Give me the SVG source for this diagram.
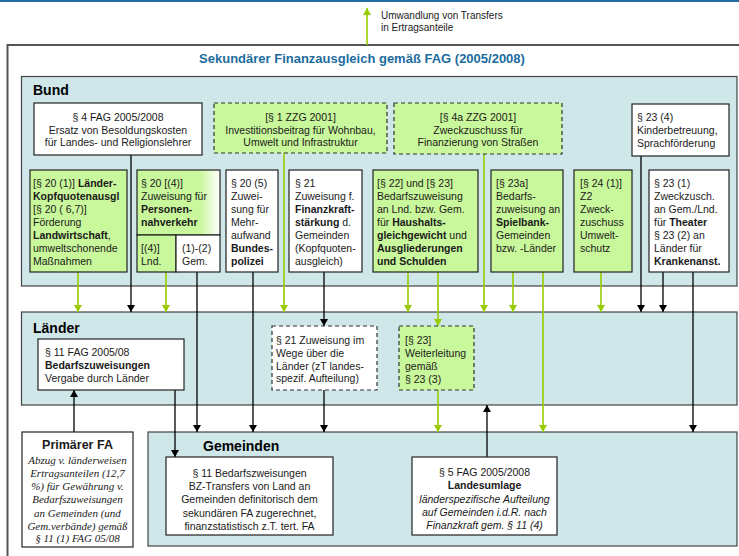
<svg xmlns="http://www.w3.org/2000/svg" width="739" height="556" viewBox="0 0 739 556">
<defs>
<linearGradient id="gfade" x1="0" y1="0" x2="1" y2="0">
<stop offset="0" stop-color="#c9f79b"/><stop offset="0.75" stop-color="#c9f79b"/><stop offset="1" stop-color="#ffffff"/>
</linearGradient>
<marker id="ak" markerUnits="userSpaceOnUse" markerWidth="8" markerHeight="8" refX="7" refY="4" orient="auto"><path d="M0,0 L7,4 L0,8 z" fill="#000"/></marker>
<marker id="ag" markerUnits="userSpaceOnUse" markerWidth="8" markerHeight="8" refX="7" refY="4" orient="auto"><path d="M0,0 L7,4 L0,8 z" fill="#99cc00"/></marker>
</defs>
<style>
text{font-family:"Liberation Sans",Arial,sans-serif;font-size:10.5px;fill:#1a1a1a}
.b{font-weight:bold}
.c{text-anchor:middle}
.lbl{font-size:14px;font-weight:bold;fill:#000}
.panel{fill:#cfe7e9;stroke:#444;stroke-width:1.2}
.wbox{fill:#fff;stroke:#222;stroke-width:1.2}
.gbox{fill:#c9f79b;stroke:#222;stroke-width:1.2}
.wdash{fill:#fff;stroke:#333;stroke-width:1.2;stroke-dasharray:4 3}
.gdash{fill:#c9f79b;stroke:#333;stroke-width:1.2;stroke-dasharray:4 3}
.k{stroke:#000;stroke-width:1.3;fill:none}
.g{stroke:#99cc00;stroke-width:1.6;fill:none}
.ka{marker-end:url(#ak)}
.ga{marker-end:url(#ag)}
.it{font-style:italic}
.ser{font-family:"Liberation Serif","Times New Roman",serif;font-style:italic;font-size:11px}
</style>
<rect x="0" y="0" width="739" height="2" fill="#1f6d9c"/>
<g id="frame">
<rect x="7.5" y="45" width="740" height="520" fill="#fff" stroke="#555" stroke-width="2"/>
<text x="362" y="63" class="c b" style="font-size:13px;fill:#1c6c9e">Sekundärer Finanzausgleich gemäß FAG (2005/2008)</text>
</g>
<g id="top-label">
<text x="381" y="19" style="font-size:10px">Umwandlung von Transfers</text>
<text x="381" y="31" style="font-size:10px">in Ertragsanteile</text>
</g>
<g id="bund">
<rect x="21.5" y="76.5" width="715.5" height="209.5" class="panel"/>
<text x="33" y="95" class="lbl">Bund</text>
</g>
<g id="laender">
<rect x="21.5" y="312" width="715.5" height="93" class="panel"/>
<text x="33" y="333" class="lbl">Länder</text>
</g>
<g id="gemeinden">
<rect x="148" y="432" width="589" height="114" class="panel"/>
<text x="203" y="451" class="lbl">Gemeinden</text>
</g>
<g id="connectors">
<line x1="367" y1="45" x2="367" y2="8" class="g ga"/>
<line x1="131" y1="155" x2="131" y2="312" class="k ka"/>
<line x1="284" y1="153" x2="284" y2="312" class="g ga"/>
<line x1="484" y1="154" x2="484" y2="312" class="g ga"/>
<line x1="641" y1="156" x2="641" y2="312" class="k ka"/>
<line x1="78" y1="272" x2="78" y2="312" class="g ga"/>
<line x1="166" y1="272" x2="166" y2="312" class="g ga"/>
<line x1="197" y1="272" x2="197" y2="432" class="k ka"/>
<line x1="253" y1="272" x2="253" y2="432" class="k ka"/>
<line x1="324" y1="272" x2="324" y2="326" class="k ka"/>
<line x1="324" y1="390" x2="324" y2="432" class="k ka"/>
<line x1="408" y1="272" x2="408" y2="312" class="g ga"/>
<line x1="438" y1="272" x2="438" y2="326" class="g ga"/>
<line x1="438" y1="390" x2="438" y2="432" class="g ga"/>
<line x1="513" y1="272" x2="513" y2="312" class="g ga"/>
<line x1="543" y1="272" x2="543" y2="432" class="g ga"/>
<line x1="601" y1="272" x2="601" y2="312" class="g ga"/>
<line x1="663" y1="272" x2="663" y2="312" class="k ka"/>
<line x1="693" y1="272" x2="693" y2="432" class="k ka"/>
<line x1="74" y1="432" x2="74" y2="390" class="k ka"/>
<line x1="175" y1="390" x2="175" y2="457" class="k ka"/>
<line x1="487" y1="457" x2="487" y2="405" class="k ka"/>
</g>
<g id="fag4">
<rect x="34" y="103" width="168" height="52" class="wbox"/>
<text x="118" y="121" class="c">§ 4 FAG 2005/2008</text>
<text x="118" y="133.5" class="c">Ersatz von Besoldungskosten</text>
<text x="118" y="146" class="c">für Landes- und Religionslehrer</text>
</g>
<g id="zzg1">
<rect x="214" y="103" width="173" height="50" class="gdash"/>
<text x="300.5" y="121" class="c">[§ 1 ZZG 2001]</text>
<text x="300.5" y="133.5" class="c">Investitionsbeitrag für Wohnbau,</text>
<text x="300.5" y="146" class="c">Umwelt und Infrastruktur</text>
</g>
<g id="zzg4a">
<rect x="394" y="103" width="168" height="51" class="gdash"/>
<text x="478" y="121" class="c">[§ 4a ZZG 2001]</text>
<text x="478" y="133.5" class="c">Zweckzuschuss für</text>
<text x="478" y="146" class="c">Finanzierung von Straßen</text>
</g>
<g id="p23-4">
<rect x="632" y="104" width="97" height="52" class="wbox"/>
<text x="637" y="121">§ 23 (4)</text>
<text x="637" y="134">Kinderbetreuung,</text>
<text x="637" y="147">Sprachförderung</text>
</g>
<g id="p20-1">
<rect x="30" y="170" width="97" height="102" class="gbox"/>
<text x="33" y="187">[§ 20 (1)] <tspan class="b">Länder-</tspan></text>
<text x="33" y="200" class="b">Kopfquotenausgl</text>
<text x="33" y="213">[§ 20 ( 6,7)]</text>
<text x="33" y="226">Förderung</text>
<text x="33" y="239"><tspan class="b">Landwirtschaft</tspan>,</text>
<text x="33" y="252">umweltschonende</text>
<text x="33" y="265">Maßnahmen</text>
</g>
<g id="p20-4">
<rect x="137" y="170" width="83" height="65" fill="url(#gfade)" stroke="#222" stroke-width="1.2"/>
<rect x="137" y="235" width="39" height="37" class="gbox"/>
<rect x="176" y="235" width="44" height="37" class="wbox"/>
<text x="141" y="187">§ 20 [(4)]</text>
<text x="141" y="200">Zuweisung für</text>
<text x="141" y="213" class="b">Personen-</text>
<text x="141" y="226" class="b">nahverkehr</text>
<text x="141" y="252">[(4)]</text>
<text x="141" y="265">Lnd.</text>
<text x="182" y="252">(1)-(2)</text>
<text x="182" y="265">Gem.</text>
</g>
<g id="p20-5">
<rect x="226" y="170" width="52" height="102" class="wbox"/>
<text x="231" y="187">§ 20 (5)</text>
<text x="231" y="200">Zuwei-</text>
<text x="231" y="213">sung für</text>
<text x="231" y="226">Mehr-</text>
<text x="231" y="239">aufwand</text>
<text x="231" y="252" class="b">Bundes-</text>
<text x="231" y="265" class="b">polizei</text>
</g>
<g id="p21">
<rect x="289" y="170" width="73" height="102" class="wbox"/>
<text x="295" y="187">§ 21</text>
<text x="295" y="200">Zuweisung f.</text>
<text x="295" y="213" class="b">Finanzkraft-</text>
<text x="295" y="226"><tspan class="b">stärkung</tspan> d.</text>
<text x="295" y="239">Gemeinden</text>
<text x="295" y="252">(Kopfquoten-</text>
<text x="295" y="265">ausgleich)</text>
</g>
<g id="p22">
<rect x="373" y="170" width="105" height="102" class="gbox"/>
<text x="377" y="187">[§ 22] und [§ 23]</text>
<text x="377" y="200">Bedarfszuweisung</text>
<text x="377" y="213">an Lnd. bzw. Gem.</text>
<text x="377" y="226">für <tspan class="b">Haushalts-</tspan></text>
<text x="377" y="239"><tspan class="b">gleichgewicht</tspan> und</text>
<text x="377" y="252" class="b">Ausgliederungen</text>
<text x="377" y="265" class="b">und Schulden</text>
</g>
<g id="p23a">
<rect x="491" y="170" width="72" height="102" class="gbox"/>
<text x="496" y="187">[§ 23a]</text>
<text x="496" y="200">Bedarfs-</text>
<text x="496" y="213">zuweisung an</text>
<text x="496" y="226" class="b">Spielbank-</text>
<text x="496" y="239">Gemeinden</text>
<text x="496" y="252">bzw. -Länder</text>
</g>
<g id="p24">
<rect x="574" y="170" width="58" height="102" class="gbox"/>
<text x="580" y="187">[§ 24 (1)]</text>
<text x="580" y="200">Z2</text>
<text x="580" y="213">Zweck-</text>
<text x="580" y="226">zuschuss</text>
<text x="580" y="239">Umwelt-</text>
<text x="580" y="252">schutz</text>
</g>
<g id="p23-1">
<rect x="649" y="170" width="80" height="102" class="wbox"/>
<text x="654" y="187">§ 23 (1)</text>
<text x="654" y="200">Zweckzusch.</text>
<text x="654" y="213">an Gem./Lnd.</text>
<text x="654" y="226">für <tspan class="b">Theater</tspan></text>
<text x="654" y="239">§ 23 (2) an</text>
<text x="654" y="252">Länder für</text>
<text x="654" y="265" class="b">Krankenanst.</text>
</g>
<g id="fag11">
<rect x="38" y="339" width="146" height="51" class="wbox"/>
<text x="45" y="356">§ 11 FAG 2005/08</text>
<text x="45" y="369" class="b">Bedarfszuweisungen</text>
<text x="45" y="382">Vergabe durch Länder</text>
</g>
<g id="p21-laender">
<rect x="272" y="326" width="105" height="64" class="wdash"/>
<text x="276" y="344">§ 21 Zuweisung im</text>
<text x="276" y="357">Wege über die</text>
<text x="276" y="370">Länder (zT landes-</text>
<text x="276" y="382">spezif. Aufteilung)</text>
</g>
<g id="p23-weiter">
<rect x="399" y="326" width="75" height="64" class="gdash"/>
<text x="405" y="344">[§ 23]</text>
<text x="405" y="357">Weiterleitung</text>
<text x="405" y="370">gemäß</text>
<text x="405" y="383">§ 23 (3)</text>
</g>
<g id="primaer">
<rect x="22" y="432" width="111" height="115" class="wbox"/>
<text x="77.5" y="449" class="c b" style="font-size:12.5px">Primärer FA</text>
<text x="77.5" y="464" class="c ser">Abzug v. länderweisen</text>
<text x="77.5" y="477" class="c ser">Ertragsanteilen (12,7</text>
<text x="77.5" y="490" class="c ser">%) für Gewährung v.</text>
<text x="77.5" y="503" class="c ser">Bedarfszuweisungen</text>
<text x="77.5" y="517" class="c ser">an Gemeinden (und</text>
<text x="77.5" y="530" class="c ser">Gem.verbände) gemäß</text>
<text x="77.5" y="542" class="c ser">§ 11 (1) FAG 05/08</text>
</g>
<g id="bz11">
<rect x="166" y="457" width="167" height="78" class="wbox"/>
<text x="249.5" y="477" class="c">§ 11 Bedarfszweisungen</text>
<text x="249.5" y="490" class="c">BZ-Transfers von Land an</text>
<text x="249.5" y="503" class="c">Gemeinden definitorisch dem</text>
<text x="249.5" y="517" class="c">sekundären FA zugerechnet,</text>
<text x="249.5" y="530" class="c">finanzstatistisch z.T. tert. FA</text>
</g>
<g id="landesumlage">
<rect x="412" y="457" width="145" height="78" class="wbox"/>
<text x="484.5" y="476" class="c">§ 5 FAG 2005/2008</text>
<text x="484.5" y="489" class="c b">Landesumlage</text>
<text x="484.5" y="503" class="c it">länderspezifische Aufteilung</text>
<text x="484.5" y="516" class="c it">auf Gemeinden i.d.R. nach</text>
<text x="484.5" y="529" class="c it">Finanzkraft gem. § 11 (4)</text>
</g>
</svg>
